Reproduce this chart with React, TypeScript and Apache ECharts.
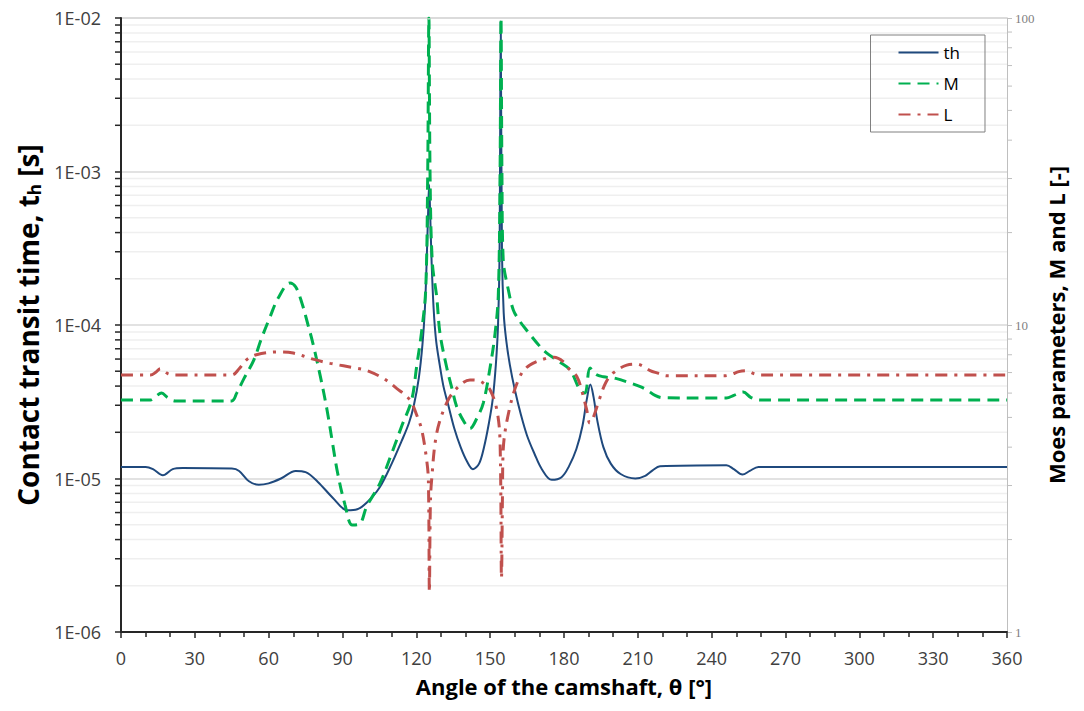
import React, { useEffect, useRef } from "react";
import * as echarts from "echarts";

// Angle of the camshaft (deg) and contact transit time th (s)
const thAngles = [0, 10, 13, 17, 21, 25, 45, 48, 52, 56, 60, 65, 71, 75, 80, 86, 92, 96, 100, 105, 110, 114, 117, 119, 121, 122.5, 123.5, 124.2, 124.8, 125.2, 125.6, 126.2, 127, 128, 129.5, 131, 133, 135.5, 138, 140.5, 143, 145.5, 147.5, 149.5, 151, 152.3, 153.2, 153.8, 154.3, 154.8, 155.5, 156.5, 158, 160, 162.5, 165, 168, 171, 175, 179, 182, 185, 187.5, 189.3, 190.7, 192, 193.5, 196, 199, 203, 209, 213, 216, 219, 246, 249, 252.5, 255.5, 259, 360];
const thValues = [1.19e-5, 1.19e-5, 1.15e-5, 1.05e-5, 1.15e-5, 1.17e-5, 1.16e-5, 1.12e-5, 9.6e-6, 9.1e-6, 9.3e-6, 1.0e-5, 1.12e-5, 1.1e-5, 9.5e-6, 7.5e-6, 6.2e-6, 6.3e-6, 7.0e-6, 8.7e-6, 1.25e-5, 1.75e-5, 2.3e-5, 3.0e-5, 4.5e-5, 7.5e-5, 1.3e-4, 2.6e-4, 5.5e-4, 8.2e-4, 5.5e-4, 2.6e-4, 1.3e-4, 8e-5, 5.5e-5, 4e-5, 3e-5, 2.1e-5, 1.6e-5, 1.3e-5, 1.15e-5, 1.25e-5, 1.6e-5, 2.3e-5, 3.25e-5, 5.5e-5, 1e-4, 2.8e-4, 9.5e-3, 3e-4, 1.2e-4, 8e-5, 5.5e-5, 3.8e-5, 2.6e-5, 1.9e-5, 1.45e-5, 1.15e-5, 9.8e-6, 1.02e-5, 1.2e-5, 1.55e-5, 2.2e-5, 3.3e-5, 4.1e-5, 3.4e-5, 2.4e-5, 1.6e-5, 1.25e-5, 1.07e-5, 1.0e-5, 1.04e-5, 1.13e-5, 1.2e-5, 1.22e-5, 1.15e-5, 1.06e-5, 1.12e-5, 1.19e-5, 1.19e-5];

// Moes parameter M (-)
const mAngles = [0, 12, 14, 16.5, 19, 22, 45, 47, 50, 54, 57, 60.5, 64, 68.7, 71, 73.5, 76, 78, 81, 83.7, 86, 88, 91, 94, 97, 99.8, 105.2, 110, 114, 118.1, 120.1, 122.2, 123.8, 124.6, 125.1, 125.6, 126.5, 128.3, 129.6, 132.3, 134.5, 136.4, 139, 141.8, 144.5, 147.2, 150, 152, 153.3, 154, 154.4, 154.8, 155.3, 157.4, 159.4, 162, 164.9, 170.3, 173, 178, 182.5, 186.5, 188.5, 190.6, 193, 196, 201, 207, 211, 213.7, 217, 220, 246, 249, 252.8, 256, 259.6, 360];
const mValues = [5.7, 5.7, 5.85, 6.0, 5.8, 5.66, 5.66, 6.0, 6.7, 7.7, 9.0, 10.6, 12.3, 13.7, 13.3, 11.8, 10.0, 8.7, 6.8, 5.3, 4.1, 3.3, 2.6, 2.23, 2.25, 2.56, 3.05, 3.82, 4.67, 5.7, 7.3, 9.6, 13, 30, 100, 30, 16, 12.3, 9.4, 7.3, 6.2, 5.42, 4.9, 4.6, 4.95, 5.57, 7.3, 9.4, 12.5, 30, 100, 30, 16.3, 13.0, 11.2, 10.3, 9.6, 8.5, 8.1, 7.6, 7.13, 6.14, 6.0, 7.24, 6.9, 6.78, 6.7, 6.47, 6.3, 6.14, 5.9, 5.8, 5.78, 5.9, 6.05, 5.8, 5.7, 5.7];

// Moes parameter L (-)
const lAngles = [0, 12, 14, 16, 19, 22, 45, 48, 51, 55, 63.5, 70, 78, 85, 95.8, 100, 106.6, 112, 117.4, 120.1, 122.2, 124.2, 124.9, 125.3, 125.7, 126.2, 128.3, 132.3, 136.4, 141.8, 145, 147.2, 150, 152.7, 154, 154.6, 155, 155.3, 158, 162.1, 166, 173, 176, 179.7, 182, 185.2, 187.5, 189.2, 190.5, 191.9, 194.6, 197, 200, 205.5, 209.6, 212, 215, 217.8, 222, 245, 248, 251, 254, 257, 259.6, 360];
const lValues = [6.87, 6.87, 7.0, 7.2, 6.95, 6.87, 6.87, 7.2, 7.7, 8.0, 8.17, 8.1, 7.74, 7.5, 7.23, 7.1, 6.7, 6.22, 5.7, 5.1, 4.55, 3.63, 3.12, 1.35, 2.6, 3.12, 4.45, 5.57, 6.22, 6.62, 6.6, 6.47, 6.14, 5.3, 4.2, 1.5, 2.8, 3.92, 5.4, 6.8, 7.4, 7.8, 7.85, 7.6, 7.2, 6.8, 6.0, 5.3, 4.8, 5.0, 5.8, 6.5, 6.98, 7.4, 7.46, 7.35, 7.1, 6.98, 6.83, 6.83, 6.9, 7.05, 7.1, 6.95, 6.87, 6.87];

const leftDecades = [-6, -5, -4, -3];
const rightDecades = [0, 1];
const minorMultipliers = [2, 3, 4, 5, 6, 7, 8, 9];

const FONT = "'Open Sans', Lato, sans-serif";

export default function App() {
  const ref = useRef<HTMLDivElement>(null);
  useEffect(() => {
    if (!ref.current) return;
    const chart = echarts.init(ref.current, undefined, { renderer: "svg" });
    const zip = (a: number[], b: number[]) => a.map((x, i) => [x, b[i]]);
    const leftMinor: number[][] = [];
    leftDecades.forEach((d) => minorMultipliers.forEach((k) => leftMinor.push([0, k * Math.pow(10, d)])));
    const rightMinor: number[][] = [];
    rightDecades.forEach((d) => minorMultipliers.forEach((k) => rightMinor.push([360, k * Math.pow(10, d)])));

    chart.setOption({
      animation: false,
      backgroundColor: "#ffffff",
      grid: { left: 121, right: 77, top: 18, bottom: 79 },
      legend: {
        data: ["th", "M", "L"],
        orient: "vertical",
        right: 99,
        top: 35,
        padding: [9, 25, 9, 27],
        borderColor: "#808080",
        borderWidth: 1,
        itemWidth: 40,
        itemHeight: 14,
        itemGap: 14,
        itemStyle: { opacity: 0 },
        textStyle: { fontSize: 17, color: "#000", fontFamily: FONT },
      },
      xAxis: {
        type: "value",
        min: 0,
        max: 360,
        interval: 30,
        name: "Angle of the camshaft, θ [°]",
        nameLocation: "middle",
        nameGap: 43,
        nameTextStyle: { fontSize: 22, fontWeight: "bold", color: "#000", fontFamily: FONT },
        axisLine: { lineStyle: { color: "#262626", width: 2 } },
        axisTick: { length: 6, lineStyle: { color: "#262626", width: 1.5 } },
        minorTick: { show: true, splitNumber: 3, length: 5, lineStyle: { color: "#262626", width: 1.5 } },
        axisLabel: { fontSize: 18, color: "#404040", margin: 17, fontFamily: FONT },
        splitLine: { show: false },
      },
      yAxis: [
        {
          type: "log",
          logBase: 10,
          min: 1e-6,
          max: 1e-2,
          name: "{a|Contact transit time, t}{s|h}{a| [s]}",
          nameLocation: "middle",
          nameGap: 73,
          nameRotate: 90,
          nameTextStyle: {
            rich: {
              a: { fontSize: 28, fontWeight: "bold", color: "#000", fontFamily: FONT },
              s: { fontSize: 17, fontWeight: "bold", color: "#000", fontFamily: FONT, padding: [13, 0, 0, 0] },
            },
          },
          axisLine: { show: true, lineStyle: { color: "#262626", width: 2 } },
          axisTick: { show: true, length: 6, lineStyle: { color: "#262626", width: 1.5 } },
          axisLabel: {
            fontSize: 18,
            color: "#404040",
            margin: 20,
            fontFamily: FONT,
            formatter: (v: number) => {
              const e = Math.round(Math.log10(v));
              return "1E-0" + -e;
            },
          },
          splitLine: { show: true, lineStyle: { color: "#d9d9d9", width: 1.5 } },
        },
        {
          type: "log",
          logBase: 10,
          min: 1,
          max: 100,
          name: "Moes parameters, M and L [-]",
          nameLocation: "middle",
          nameGap: 25,
          nameRotate: 90,
          nameTextStyle: { fontSize: 22, fontWeight: "bold", color: "#000", fontFamily: FONT },
          axisLine: { show: true, lineStyle: { color: "#bfbfbf", width: 1 } },
          axisTick: { show: true, length: 5, lineStyle: { color: "#bfbfbf" } },
          axisLabel: { fontSize: 13, color: "#7f7f7f", margin: 8, fontFamily: "'Liberation Serif', serif" },
          splitLine: { show: false },
        },
      ],
      series: [
        {
          name: "minorGrid",
          type: "custom",
          yAxisIndex: 0,
          z: 1,
          silent: true,
          data: leftMinor,
          renderItem: (params: any, api: any) => {
            const v = api.value(1);
            const a = api.coord([0, v]);
            const b = api.coord([360, v]);
            return {
              type: "group",
              children: [
                { type: "line", shape: { x1: a[0] + 1, y1: a[1], x2: b[0], y2: b[1] }, style: { stroke: "#efefef", lineWidth: 1.5 } },
                { type: "line", shape: { x1: a[0] - 6, y1: a[1], x2: a[0], y2: a[1] }, style: { stroke: "#262626", lineWidth: 1.5 } },
              ],
            };
          },
        },
        {
          name: "rightMinor",
          type: "custom",
          yAxisIndex: 1,
          z: 1,
          silent: true,
          data: rightMinor,
          renderItem: (params: any, api: any) => {
            const b = api.coord([360, api.value(1)]);
            return { type: "line", shape: { x1: b[0], y1: b[1], x2: b[0] + 5, y2: b[1] }, style: { stroke: "#bfbfbf", lineWidth: 1 } };
          },
        },
        {
          name: "th",
          type: "line",
          yAxisIndex: 0,
          data: zip(thAngles, thValues),
          symbol: "none",
          smooth: 0.35,
          color: "#1f497d",
          lineStyle: { color: "#1f497d", width: 2 },
          z: 3,
        },
        {
          name: "M",
          type: "line",
          yAxisIndex: 1,
          data: zip(mAngles, mValues),
          symbol: "none",
          smooth: 0.35,
          color: "#00b050",
          lineStyle: { color: "#00b050", width: 3, type: [12, 7] },
          z: 4,
        },
        {
          name: "L",
          type: "line",
          yAxisIndex: 1,
          data: zip(lAngles, lValues),
          symbol: "none",
          smooth: 0.35,
          color: "#c0504d",
          lineStyle: { color: "#c0504d", width: 3, type: [12, 7, 3, 7] },
          z: 5,
        },
      ],
    });
    return () => chart.dispose();
  }, []);
  return <div ref={ref} style={{ position: "fixed", left: 0, top: 0, width: 1084, height: 711, background: "#fff" }} />;
}
